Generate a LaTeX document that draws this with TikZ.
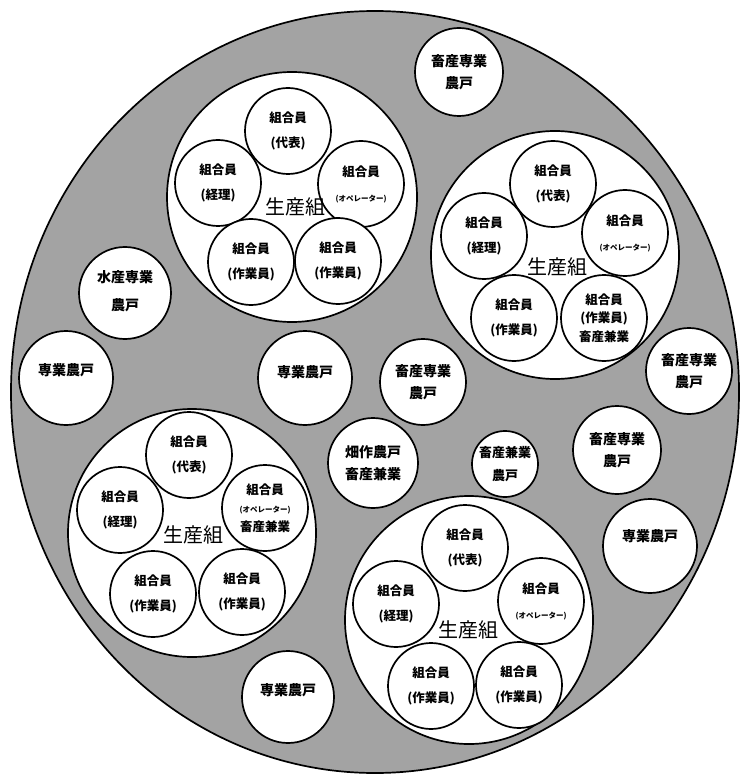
\documentclass[tikz,border=0pt]{standalone}
\usepackage{fontspec}
\newfontfamily\cjk{Noto Sans CJK JP}
\newcommand{\oprtxt}{{\fontsize{7.5}{19}\selectfont (オペレーター)}}
\tikzset{
  lw/.style={line width=1.7pt},
  grp/.style={circle, draw, lw, fill=white, minimum size=248pt, inner sep=0pt},
  mem/.style={circle, draw, lw, fill=white, minimum size=86pt, inner sep=0pt, align=center,
    font=\cjk\bfseries\fontsize{12.5}{25}\selectfont},
  memthree/.style={mem, font=\cjk\bfseries\fontsize{12.5}{18.5}\selectfont},
  farm/.style={circle, draw, lw, fill=white, inner sep=0pt},
  ftext/.style={align=center, inner sep=0pt, font=\cjk\bfseries\fontsize{14}{22}\selectfont},
  glabel/.style={inner sep=0pt, font=\cjk\fontsize{20}{20}\selectfont},
}
\begin{document}
\begin{tikzpicture}[x=1pt,y=-1pt]
\useasboundingbox (0,0) rectangle (739,775);
\fill[white] (0,0) rectangle (739,775);
% outer region
\path[draw=black, lw, fill=black!36] (375,392) ellipse [x radius=364pt, y radius=381pt];

% ---------- group 1 (top) ----------
\node[grp, minimum size=250pt] (g1) at (292,197) {};
\node[mem] (g1a) at (288,131) {組合員\\(代表)};
\node[mem] (g1b) at (218,183) {組合員\\(経理)};
\node[mem] (g1c) at (361,184) {組合員\\\oprtxt};
\node[mem] (g1d) at (251,262) {組合員\\(作業員)};
\node[mem] (g1e) at (338,261) {組合員\\(作業員)};
\node[glabel] (g1l) at (295,207) {生産組};

% ---------- group 2 (right top) ----------
\node[grp] (g2) at (555,255) {};
\node[mem] (g2a) at (553,184) {組合員\\(代表)};
\node[mem] (g2b) at (484,236) {組合員\\(経理)};
\node[mem] (g2c) at (625,233) {組合員\\\oprtxt};
\node[mem] (g2d) at (514,318) {組合員\\(作業員)};
\node[memthree] (g2e) at (604,318) {組合員\\(作業員)\\畜産兼業};
\node[glabel] (g2l) at (557,267) {生産組};

% ---------- group 3 (left bottom) ----------
\node[grp] (g3) at (192,533) {};
\node[mem] (g3a) at (189,455) {組合員\\(代表)};
\node[mem] (g3b) at (120,510) {組合員\\(経理)};
\node[memthree] (g3c) at (265,508) {組合員\\\oprtxt\\畜産兼業};
\node[mem] (g3d) at (153,594) {組合員\\(作業員)};
\node[mem] (g3e) at (242,592) {組合員\\(作業員)};
\node[glabel] (g3l) at (193,535) {生産組};

% ---------- group 4 (right bottom) ----------
\node[grp] (g4) at (469,620) {};
\node[mem] (g4a) at (465,548) {組合員\\(代表)};
\node[mem] (g4b) at (396,604) {組合員\\(経理)};
\node[mem] (g4c) at (541,601) {組合員\\\oprtxt};
\node[mem] (g4d) at (431,686) {組合員\\(作業員)};
\node[mem] (g4e) at (519,685) {組合員\\(作業員)};
\node[glabel] (g4l) at (468,630) {生産組};

% ---------- single farms ----------
\node[farm, minimum size=88pt] (f1) at (459,72) {};
\node[ftext] (f1t) at (f1.center) {畜産専業\\農戸};
\node[farm, minimum size=92pt] (f2) at (125,293) {};
\node[ftext, font=\cjk\bfseries\fontsize{14}{28}\selectfont] (f2t) at ([yshift=2pt]f2.center) {水産専業\\農戸};
\node[farm, minimum size=94pt] (f3) at (66,378) {};
\node[ftext] (f3t) at ([yshift=8pt]f3.center) {専業農戸};
\node[farm, minimum size=94pt] (f4) at (305,378) {};
\node[ftext] (f4t) at ([yshift=6pt]f4.center) {専業農戸};
\node[farm, minimum size=86pt] (f5) at (423,382) {};
\node[ftext] (f5t) at (f5.center) {畜産専業\\農戸};
\node[farm, minimum size=90pt] (f6) at (373,463) {};
\node[ftext] (f6t) at (f6.center) {畑作農戸\\畜産兼業};
\node[farm, minimum size=66pt] (f7) at (505,464) {};
\node[ftext, font=\cjk\bfseries\fontsize{13}{23}\selectfont] (f7t) at (f7.center) {畜産兼業\\農戸};
\node[farm, minimum size=86pt] (f8) at (689,371) {};
\node[ftext] (f8t) at (f8.center) {畜産専業\\農戸};
\node[farm, minimum size=88pt] (f9) at (617,450) {};
\node[ftext] (f9t) at (f9.center) {畜産専業\\農戸};
\node[farm, minimum size=94pt] (f10) at (650,546) {};
\node[ftext] (f10t) at ([yshift=10pt]f10.center) {専業農戸};
\node[farm, minimum size=92pt] (f11) at (288,697) {};
\node[ftext] (f11t) at ([yshift=7pt]f11.center) {専業農戸};
\end{tikzpicture}
\end{document}
